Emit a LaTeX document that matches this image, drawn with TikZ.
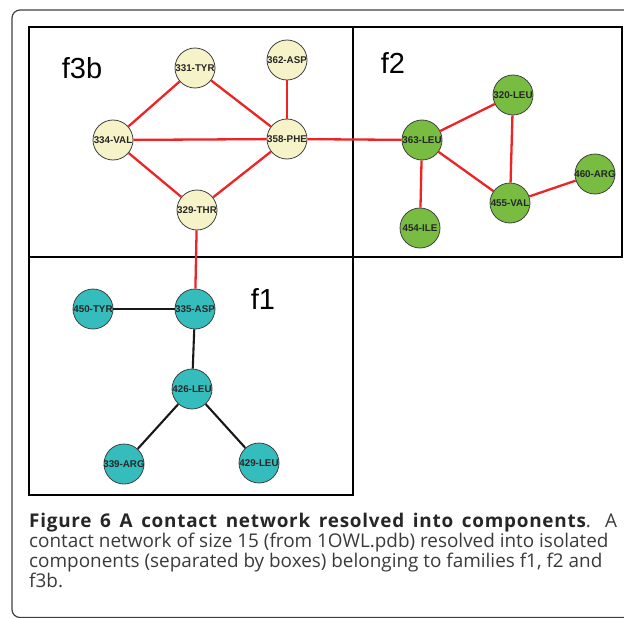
\documentclass[tikz,border=0pt]{standalone}
\usepackage{fontspec}
\setmainfont{Open Sans}
\newfontfamily\labfont{Liberation Sans}
\usetikzlibrary{shapes.geometric}
\definecolor{cream}{HTML}{F6F3C8}
\definecolor{leaf}{HTML}{78BC42}
\definecolor{teal}{HTML}{35BDBD}
\definecolor{edgered}{HTML}{EE2424}
\definecolor{captext}{HTML}{3A3A3A}
\newcommand\reslab[1]{\makebox[0pt]{#1}}
\tikzset{
  res/.style={circle, draw=black!75, line width=0.8pt, minimum size=40pt, inner sep=0pt,
    font=\labfont\bfseries\fontsize{9.8}{10}\selectfont, text=black!85},
  f3/.style={res, fill=cream},
  ftwo/.style={res, fill=leaf},
  fone/.style={res, fill=teal},
  redge/.style={draw=edgered, line width=2.3pt},
  bedge/.style={draw=black!90, line width=2.1pt},
  boxline/.style={draw=black, line width=1.4pt},
  frameline/.style={draw=black!75, line width=1.2pt, rounded corners=8pt},
  famlabel/.style={font=\labfont\fontsize{29}{29}\selectfont, inner sep=0pt},
  capline/.style={anchor=base west, inner sep=0pt, text=captext, font=\fontsize{18.9}{21}\selectfont}
}
\begin{document}
\begin{tikzpicture}[x=1pt,y=-1pt]
\useasboundingbox (0,0) rectangle (624,618);
\begin{scope}
\clip (0,0) rectangle (624,618);
\draw[frameline] (12,10) rectangle (680,617.5);
\end{scope}
% boxes
\draw[boxline] (29,27) rectangle (353,257);
\draw[boxline] (353,27) rectangle (622,257);
\draw[boxline] (29,257) rectangle (353,495);
% family labels
\node[famlabel] (lf3b) at (82,68) {f3b};
\node[famlabel] (lf2) at (393,63) {f2};
\node[famlabel] (lf1) at (263,299) {f1};
% f3b nodes
\node[f3] (tyr331) at (195,68) {\reslab{331-TYR}};
\node[f3] (asp362) at (287,60) {\reslab{362-ASP}};
\node[f3] (val334) at (113,140) {\reslab{334-VAL}};
\node[f3] (phe358) at (287,139) {\reslab{358-PHE}};
\node[f3] (thr329) at (197,210) {\reslab{329-THR}};
% f2 nodes
\node[ftwo] (leu320) at (513,95) {\reslab{320-LEU}};
\node[ftwo] (leu363) at (422,140) {\reslab{363-LEU}};
\node[ftwo] (arg460) at (595,174) {\reslab{460-ARG}};
\node[ftwo] (val455) at (510,203) {\reslab{455-VAL}};
\node[ftwo] (ile454) at (420,228) {\reslab{454-ILE}};
% f1 nodes
\node[fone] (tyr450) at (93,309) {\reslab{450-TYR}};
\node[fone] (asp335) at (195,309) {\reslab{335-ASP}};
\node[fone] (leu426) at (192,389) {\reslab{426-LEU}};
\node[fone] (arg339) at (124,464) {\reslab{339-ARG}};
\node[fone] (leu429) at (259,463) {\reslab{429-LEU}};
% red edges
\draw[redge] (tyr331) -- (val334);
\draw[redge] (tyr331) -- (phe358);
\draw[redge] (asp362) -- (phe358);
\draw[redge] (val334) -- (phe358);
\draw[redge] (val334) -- (thr329);
\draw[redge] (thr329) -- (phe358);
\draw[redge] (phe358) -- (leu363);
\draw[redge] (thr329) -- (asp335);
\draw[redge] (leu363) -- (leu320);
\draw[redge] (leu320) -- (val455);
\draw[redge] (leu363) -- (val455);
\draw[redge] (leu363) -- (ile454);
\draw[redge] (val455) -- (arg460);
% black edges
\draw[bedge] (tyr450) -- (asp335);
\draw[bedge] (asp335) -- (leu426);
\draw[bedge] (leu426) -- (arg339);
\draw[bedge] (leu426) -- (leu429);
% caption
\node[capline] (cap1) at (29,527) {\makebox[588pt][s]{{\bfseries\addfontfeatures{LetterSpace=4}\color{black!85}Figure 6 A contact network resolved into components}. A}};
\node[capline] (cap2) at (29,547) {contact network of size 15 (from 1OWL.pdb) resolved into isolated};
\node[capline] (cap3) at (29,567) {components (separated by boxes) belonging to families f1, f2 and};
\node[capline] (cap4) at (29,587) {f3b.};
\end{tikzpicture}
\end{document}
